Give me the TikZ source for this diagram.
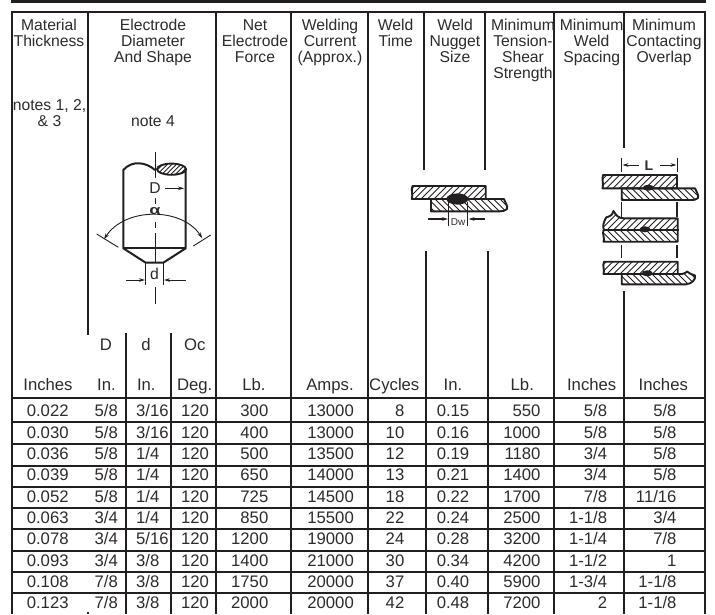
\documentclass[tikz,border=0pt]{standalone}
\usepackage{fontspec}
\setmainfont{Liberation Sans}
\usetikzlibrary{arrows.meta}
\definecolor{ink}{HTML}{231F20}
\definecolor{txt}{HTML}{2E2B2C}
\newcommand{\hatchplate}[4]{% path, x-start list, ymid, sign
  \begin{scope}
    \clip #1;
    \foreach \h in {#2} {\draw[hatchline] (\h-16,#3+#4*16) -- (\h+16,#3-#4*16);}
  \end{scope}
  \draw[plate] #1;
}
\tikzset{
  x=1pt,y=-1pt,
  >={Stealth[length=6pt,width=3.6pt]},
  rule/.style={draw=ink,line width=2pt},
  hdr/.style={inner sep=0pt,anchor=north,align=center,text=txt,font=\fontsize{15.7}{16}\selectfont},
  val/.style={inner sep=0pt,anchor=base,text=txt,font=\fontsize{16.7}{16}\selectfont},
  valr/.style={val,anchor=base east},
  vall/.style={val,anchor=base west},
  plate/.style={draw=ink,line width=1.9pt,line join=round},
  hatchline/.style={draw=ink,line width=0.9pt},
  thin line/.style={draw=ink,line width=0.9pt},
  fig/.style={draw=ink,line width=2pt,line join=round},
  dim/.style={draw=ink,line width=0.9pt,->},
  nug/.style={fill=ink,draw=none},
}
\newcommand{\hs}{\rule{0pt}{12pt}}
\begin{document}
\begin{tikzpicture}
\useasboundingbox (0,0) rectangle (715,614);
\fill[white] (0,0) rectangle (715,614);
% top bar and table frame
\draw[ink,line width=2.7pt] (11,1.35) -- (706,1.35);
\draw[rule] (11,11.7) -- (706,11.7);
\draw[rule] (12,11) -- (12,614);
\draw[rule] (88,11) -- (88,335);
\draw[rule] (88,612) -- (88,614);
\draw[rule] (125.7,333) -- (125.7,614);
\draw[rule] (170.7,333) -- (170.7,614);
\draw[rule] (216,11) -- (216,614);
\draw[rule] (291,11) -- (291,614);
\draw[rule] (367.7,11) -- (367.7,614);
\draw[rule] (424,11) -- (424,170);
\draw[rule] (426.3,251) -- (426.3,614);
\draw[rule] (485,11) -- (485,170);
\draw[rule] (487.7,251) -- (487.7,614);
\draw[rule] (554,11) -- (554,614);
\draw[rule] (623.7,11) -- (623.7,148);
\draw[rule] (624,291) -- (624,614);
\draw[rule] (705,11) -- (705,614);
\foreach \y in {398.3,421.7,444,465.7,486.7,508.3,529.3,550.7,572.3,593.3}
  \draw[rule] (11,\y) -- (706,\y);
% headers
\node[hdr] (h1) at (49,18.7) {\hs Material\\Thickness};
\node[hdr] (h2) at (153,18.7) {\hs Electrode\\Diameter\\And Shape};
\node[hdr] (h3) at (255,18.7) {\hs Net\\Electrode\\Force};
\node[hdr] (h4) at (330,18.7) {\hs Welding\\Current\\(Approx.)};
\node[hdr] (h5) at (395.7,18.7) {\hs Weld\\Time};
\node[hdr] (h6) at (455,18.7) {\hs Weld\\Nugget\\Size};
\node[hdr] (h7) at (523,18.7) {\hs Minimum\\Tension-\\Shear\\Strength};
\node[hdr] (h8) at (591.7,18.7) {\hs Minimum\\Weld\\Spacing};
\node[hdr] (h9) at (664,18.7) {\hs Minimum\\Contacting\\Overlap};
\node[hdr] (n1) at (49.5,98.7) {\hs notes 1, 2,\\\& 3};
\node[hdr] (n2) at (153,114.7) {\hs note 4};
% sub headers
\node[val] (sD) at (106,350) {D};
\node[val] (sd) at (146,350) {d};
\node[val] (sO) at (194.7,350) {Oc};
\node[val] (u1) at (48,390) {Inches};
\node[val] (u2) at (106.5,390) {In.};
\node[val] (u3) at (146.3,390) {In.};
\node[val] (u4) at (194.7,390) {Deg.};
\node[val] (u5) at (254,390) {Lb.};
\node[val] (u6) at (330,390) {Amps.};
\node[val] (u7) at (394.3,390) {Cycles};
\node[val] (u8) at (453,390) {In.};
\node[val] (u9) at (522.3,390) {Lb.};
\node[val] (u10) at (591.7,390) {Inches};
\node[val] (u11) at (663.3,390) {Inches};
% data
\foreach \r/\b/\ca/\cb/\cc/\cd/\ce/\cf/\cg/\ch/\ci/\cj/\ck in {
 1/416.7/0.022/5\slash 8/3\slash 16/120/300/13000/8/0.15/550/5\slash 8/5\slash 8,
 2/438.3/0.030/5\slash 8/3\slash 16/120/400/13000/10/0.16/1000/5\slash 8/5\slash 8,
 3/459.3/0.036/5\slash 8/1\slash 4/120/500/13500/12/0.19/1180/3\slash 4/5\slash 8,
 4/480.7/0.039/5\slash 8/1\slash 4/120/650/14000/13/0.21/1400/3\slash 4/5\slash 8,
 5/502/0.052/5\slash 8/1\slash 4/120/725/14500/18/0.22/1700/7\slash 8/11\slash 16,
 6/523.3/0.063/3\slash 4/1\slash 4/120/850/15500/22/0.24/2500/1-1\slash 8/3\slash 4,
 7/544.7/0.078/3\slash 4/5\slash 16/120/1200/19000/24/0.28/3200/1-1\slash 4/7\slash 8,
 8/566/0.093/3\slash 4/3\slash 8/120/1400/21000/30/0.34/4200/1-1\slash 2/1,
 9/587.3/0.108/7\slash 8/3\slash 8/120/1750/20000/37/0.40/5900/1-3\slash 4/1-1\slash 8,
 10/608.7/0.123/7\slash 8/3\slash 8/120/2000/20000/42/0.48/7200/2/1-1\slash 8}{
  \node[val] (a\r) at (47.7,\b) {\ca};
  \node[valr] (b\r) at (118,\b) {\cb};
  \node[vall] (c\r) at (136,\b) {\cc};
  \node[val] (d\r) at (195,\b) {\cd};
  \node[valr] (e\r) at (268.5,\b) {\ce};
  \node[valr] (f\r) at (354,\b) {\cf};
  \node[valr] (g\r) at (404.5,\b) {\cg};
  \node[val] (i\r) at (453,\b) {\ch};
  \node[valr] (j\r) at (540.7,\b) {\ci};
  \node[valr] (k\r) at (607.3,\b) {\cj};
  \node[valr] (l\r) at (676.7,\b) {\ck};
}
% electrode figure
\draw[fig] (155,170) .. controls (146,162) and (132,160) .. (123.3,170) -- (123.3,248.3) -- (145.7,262.7) -- (163.3,262.7) -- (185.7,248.3) -- (185.7,168);
\draw[fig] (123.3,248.3) -- (185.7,248.3);
\hatchplate{(171.5,169.2) ellipse [x radius=14.5,y radius=5.6]}{158,162.5,...,188}{169.2}{1}
\draw[thin line] (155,152) -- (155,178);
\draw[thin line] (155,198) -- (155,204);
\draw[thin line] (155,222) -- (155,228);
\draw[thin line] (155,233) -- (155,263);
\draw[thin line] (155,287) -- (155,304);
\node[val,font=\fontsize{15.7}{16}\selectfont] (lD) at (155,193) {D};
\node[val,xscale=1.4,font=\bfseries\fontsize{13}{13}\selectfont] (la) at (155,214) {α};
\node[val,font=\fontsize{15.7}{16}\selectfont] (ld) at (154.5,279.3) {d};
\draw[dim] (165,188.3) -- (184,188.3);
\draw[thin line,<->] (104,239.3) .. controls (125,207) and (182,207) .. (202.3,238.3);
\draw[thin line] (96.7,234) -- (118.3,247.3);
\draw[thin line] (193.3,246) -- (210.7,235);
\draw[thin line] (145.7,263) -- (145.7,285);
\draw[thin line] (163.3,263) -- (163.3,285);
\draw[dim] (126,280) -- (145,280);
\draw[dim] (185.7,280) -- (164,280);
% weld nugget figure
\hatchplate{(412.5,186) -- (485.7,186) -- (485.7,199) -- (411.7,199) .. controls (413.5,195) and (410.5,190) .. (412.5,186) -- cycle}{408,414.5,...,490}{192.5}{1}
\hatchplate{(431,199) -- (504,199) .. controls (505,203) and (508,205) .. (507,209) .. controls (505,211) and (503,211) .. (500,211.3) -- (431,211.3) -- cycle}{428,434.5,...,510}{205}{-1}
\fill[nug] (457.3,199) ellipse [x radius=11,y radius=5.6];
\draw[thin line] (448.7,202) -- (448.7,226);
\draw[thin line] (467.7,202) -- (467.7,226);
\draw[dim,line width=1.2pt] (428,219) -- (448,219);
\draw[dim,line width=1.2pt] (485,219) -- (468.5,219);
\node[val,font=\fontsize{10}{10}\selectfont] (lDw) at (458,225) {Dw};
% overlap figures
\draw[thin line] (621.7,158) -- (621.7,172);
\draw[thin line] (677,158) -- (677,172);
\draw[dim] (639,165) -- (622.5,165);
\draw[dim] (660,165) -- (676.5,165);
\node[val,font=\bfseries\fontsize{14}{14}\selectfont] (lL) at (649,170.5) {L};
% group 1
\hatchplate{(603,175) -- (677,175) -- (677,188.3) -- (602.5,188.3) .. controls (604,184) and (601.5,179) .. (603,175) -- cycle}{600,606.5,...,680}{181.7}{1}
\hatchplate{(621.7,188.3) -- (695,188.3) .. controls (696,192) and (699,194) .. (698,198) .. controls (696,200) and (694,200) .. (691,200) -- (621.7,200) -- cycle}{618,624.5,...,700}{194}{-1}
\fill[nug] (648.3,187.7) ellipse [x radius=5.5,y radius=3];
\draw[thin line,line width=1.1pt] (621.7,201.7) -- (621.7,216.7);
\draw[thin line,line width=1.1pt] (677,201.7) -- (677,216.7);
% group 2
\hatchplate{(677.7,218.3) -- (677.7,230) -- (604,230) .. controls (602,226) and (604,222) .. (606,217.5) .. controls (610,216) and (612,216) .. (613.5,211) .. controls (616,215) and (618,218.3) .. (624,218.3) -- cycle}{600,606.5,...,680}{224}{1}
\hatchplate{(603.5,230) -- (677.7,230) -- (677.7,241.7) -- (603.5,241.7) .. controls (605,238) and (602,234) .. (603.5,230) -- cycle}{600,606.5,...,680}{236}{-1}
\draw[plate] (603.5,230) -- (679,230);
\fill[nug] (645,229.3) ellipse [x radius=5.5,y radius=3];
\draw[thin line,line width=1.1pt] (621.7,245) -- (621.7,258);
\draw[thin line,line width=1.1pt] (677,245) -- (677,258);
% group 3
\hatchplate{(604,261.7) -- (677.7,261.7) -- (677.7,274) -- (603.5,274) .. controls (605,270) and (602,266) .. (604,261.7) -- cycle}{600,606.5,...,680}{268}{1}
\hatchplate{(621.7,274) -- (682,274) .. controls (685,274) and (686,272) .. (687,271.5) .. controls (689,274) and (692,274) .. (695,275.5) .. controls (696,279) and (692,284) .. (686,284.3) -- (621.7,284.3) -- cycle}{618,624.5,...,700}{279}{-1}
\fill[nug] (647.3,273.3) ellipse [x radius=5.5,y radius=3];
\end{tikzpicture}
\end{document}
